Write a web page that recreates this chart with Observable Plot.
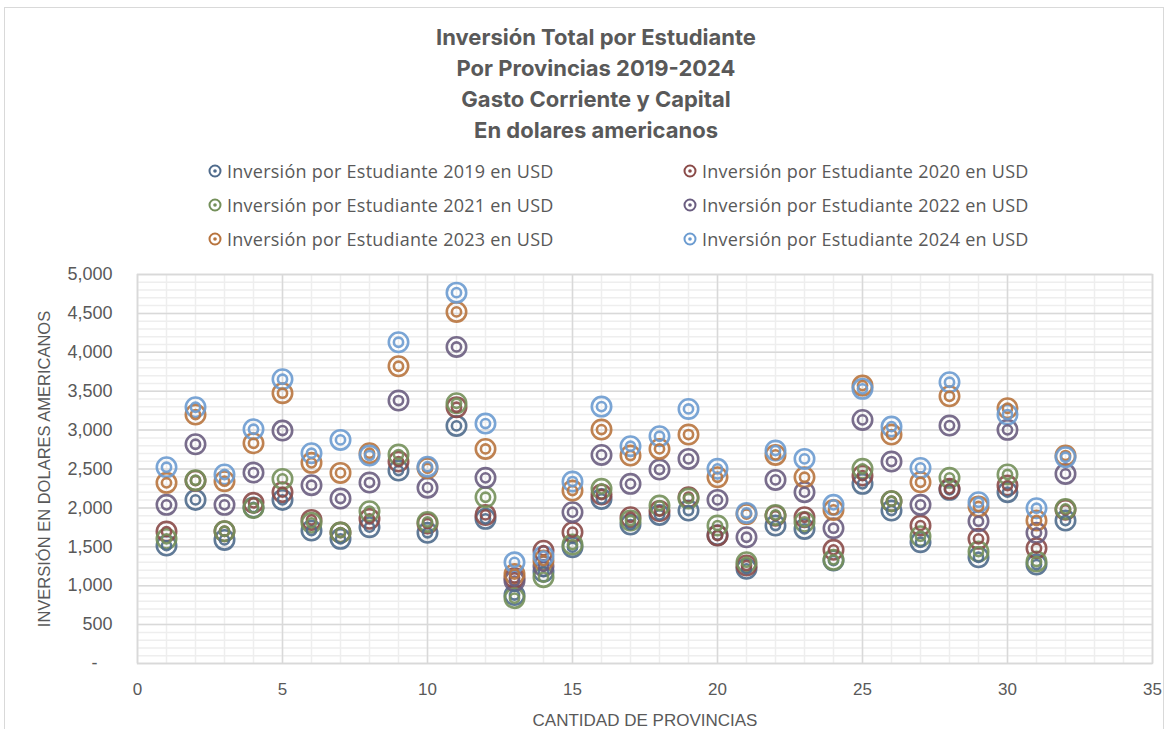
<!DOCTYPE html>
<html>
<head>
<meta charset="utf-8">
<script src="https://cdn.jsdelivr.net/npm/d3@7"></script>
<script src="https://cdn.jsdelivr.net/npm/@observablehq/plot@0.6"></script>
<style>
  html, body { margin: 0; padding: 0; background: #fff; }
  #wrap { position: relative; width: 1171px; height: 729px; overflow: hidden; font-family: "Liberation Sans", Arial, sans-serif; color: #595959; }
  #frame { position: absolute; left: 4px; top: 7px; width: 1160px; height: 740px; border: 1px solid #d9d9d9; box-sizing: border-box; }
  #title { position: absolute; left: 0; top: 22px; width: 1192px; text-align: center; font-family: Inter, "Liberation Sans", sans-serif; font-weight: 700; font-size: 22px; line-height: 31px; color: #595959; }
  .leg { position: absolute; font-family: "Open Sans", "Liberation Sans", sans-serif; font-size: 18px; letter-spacing: 0.25px; color: #595959; white-space: nowrap; display: flex; align-items: center; }
  .leg svg { margin-right: 4px; }
  #chart { position: absolute; left: 0; top: 255px; }
</style>
</head>
<body>
<div id="wrap">
  <div id="frame"></div>
  <div id="title">Inversión Total por Estudiante<br>Por Provincias 2019-2024<br>Gasto Corriente y Capital<br>En dolares americanos</div>
  <div id="legend"></div>
  <div id="chart"></div>
</div>
<script>
const provinces = d3.range(1, 33);
const seriesNames = [
  "Inversión por Estudiante 2019 en USD",
  "Inversión por Estudiante 2020 en USD",
  "Inversión por Estudiante 2021 en USD",
  "Inversión por Estudiante 2022 en USD",
  "Inversión por Estudiante 2023 en USD",
  "Inversión por Estudiante 2024 en USD"
];
const seriesColors = ["#4f6b8c", "#8a4a48", "#74905a", "#6a5d80", "#b8743e", "#6b9bd0"];
const v2019 = [1516, 2103, 1589, 2005, 2103, 1709, 1602, 1752, 2480, 1680, 3054, 1859, 880, 1180, 1495, 2116, 1786, 1910, 1966, 1650, 1217, 1773, 1730, 1324, 2309, 1966, 1559, 2232, 1366, 2202, 1272, 1838];
const v2020 = [1696, 2350, 1700, 2065, 2202, 1846, 1683, 1859, 2596, 1800, 3294, 1910, 1100, 1450, 1688, 2172, 1880, 1960, 2137, 1645, 1260, 1900, 1880, 1461, 2416, 2086, 1773, 2245, 1602, 2287, 1482, 1975];
const v2021 = [1602, 2356, 1700, 2000, 2373, 1808, 1683, 1957, 2686, 1820, 3345, 2137, 840, 1110, 1529, 2245, 1838, 2030, 2120, 1773, 1302, 1910, 1820, 1332, 2502, 2086, 1636, 2386, 1439, 2429, 1311, 1987];
const v2022 = [2039, 2818, 2039, 2454, 2994, 2292, 2120, 2326, 3380, 2260, 4069, 2386, 1060, 1250, 1945, 2681, 2309, 2493, 2630, 2103, 1623, 2360, 2202, 1739, 3131, 2596, 2039, 3058, 1829, 3003, 1679, 2437];
const v2023 = [2322, 3200, 2343, 2831, 3474, 2579, 2450, 2703, 3821, 2510, 4519, 2758, 1150, 1324, 2223, 3007, 2673, 2758, 2943, 2394, 1920, 2681, 2394, 1974, 3572, 2943, 2330, 3435, 2018, 3281, 1838, 2673];
const v2024 = [2523, 3294, 2429, 3011, 3654, 2703, 2874, 2673, 4129, 2530, 4767, 3084, 1300, 1380, 2339, 3302, 2793, 2921, 3272, 2502, 1936, 2737, 2630, 2039, 3530, 3045, 2514, 3615, 2073, 3200, 1996, 2651];
const xTicks = [0, 5, 10, 15, 20, 25, 30, 35];
const yTicks = [0, 500, 1000, 1500, 2000, 2500, 3000, 3500, 4000, 4500, 5000];
const xTitle = "CANTIDAD DE PROVINCIAS";
const yTitle = "INVERSIÓN EN DOLARES AMERICANOS";

const allValues = [v2019, v2020, v2021, v2022, v2023, v2024];
const rows = [];
allValues.forEach((vals, si) => vals.forEach((v, i) => rows.push({province: provinces[i], value: v, series: seriesNames[si]})));

// legend
const legend = document.getElementById("legend");
const legPos = [[207, 172], [682, 172], [207, 206], [682, 206], [207, 240], [682, 240]];
seriesNames.forEach((name, i) => {
  const d = document.createElement("div");
  d.className = "leg";
  d.style.left = legPos[i][0] + "px";
  d.style.top = (legPos[i][1] - 13) + "px";
  d.innerHTML = `<svg width="16" height="16" viewBox="0 0 16 16"><circle cx="8" cy="8" r="5.5" fill="none" stroke="${seriesColors[i]}" stroke-width="2"/><circle cx="8" cy="8" r="1.8" fill="${seriesColors[i]}"/></svg><span>${name}</span>`;
  legend.appendChild(d);
});

const chart = Plot.plot({
  width: 1171,
  height: 474,
  marginTop: 19,
  marginBottom: 66,
  marginLeft: 137,
  marginRight: 19,
  style: {fontFamily: "'Liberation Sans', Arial, sans-serif", fontSize: "17px", color: "#595959", background: "transparent"},
  x: {domain: [0, 35]},
  y: {domain: [0, 5000]},
  color: {domain: seriesNames, range: seriesColors},
  marks: [
    Plot.ruleY(d3.range(0, 5001, 100), {stroke: "#eeeeee", strokeWidth: 1.5}),
    Plot.ruleX(d3.range(0, 36, 1), {stroke: "#eeeeee", strokeWidth: 1.5}),
    Plot.ruleY(yTicks, {stroke: "#d9d9d9", strokeWidth: 1.5}),
    Plot.ruleX(xTicks, {stroke: "#d9d9d9", strokeWidth: 1.5}),
    Plot.frame({stroke: "#d9d9d9", strokeWidth: 1.5}),
    Plot.axisX({ticks: xTicks, tickSize: 0, tickPadding: 19, fontSize: 17, label: xTitle, labelAnchor: "center", labelOffset: 62, labelArrow: "none"}),
    Plot.axisY({ticks: yTicks, tickSize: 0, tickPadding: 25, fontSize: 18, tickFormat: d => d === 0 ? "-\u00a0\u00a0\u00a0" : d3.format(",")(d), label: yTitle, labelAnchor: "center", labelOffset: 99, labelArrow: "none"}),
    Plot.dot(rows, {x: "province", y: "value", stroke: "series", r: 9.7, strokeWidth: 2.6, fill: "none", strokeOpacity: 0.9}),
    Plot.dot(rows, {x: "province", y: "value", stroke: "series", r: 4.6, strokeWidth: 2.6, fill: "none", strokeOpacity: 0.9})
  ]
});
chart.querySelectorAll("text").forEach(t => {
  t.setAttribute("fill", "#595959");
  t.textContent = t.textContent.replace(/\s*[\u2190-\u2193]\s*/g, "");
  if (t.textContent === yTitle) t.setAttribute("font-size", "16.5");
});
document.getElementById("chart").appendChild(chart);
</script>
</body>
</html>
